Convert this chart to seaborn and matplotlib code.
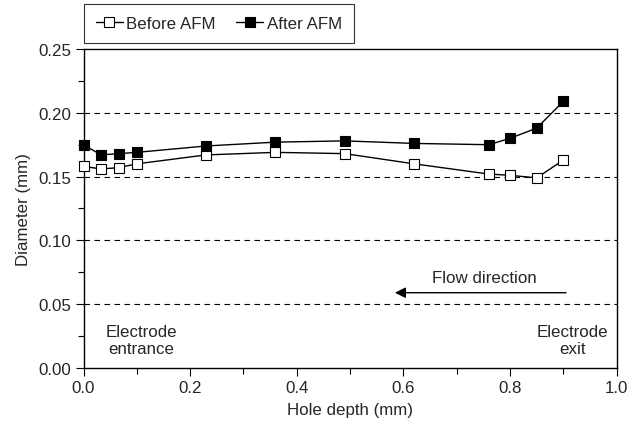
import matplotlib
matplotlib.use("Agg")
import matplotlib.pyplot as plt
import seaborn as sns
import pandas as pd
from matplotlib.ticker import MultipleLocator, FormatStrFormatter

depth = [0.0, 0.033, 0.066, 0.10, 0.23, 0.36, 0.49, 0.62, 0.76, 0.80, 0.85, 0.90]
before_afm = [0.158, 0.156, 0.157, 0.160, 0.167, 0.169, 0.168, 0.160, 0.152, 0.151, 0.149, 0.163]
after_afm = [0.175, 0.167, 0.168, 0.169, 0.174, 0.177, 0.178, 0.176, 0.175, 0.180, 0.188, 0.209]
series_names = ["Before AFM", "After AFM"]

df = pd.DataFrame({
    "depth": depth * 2,
    "diameter": before_afm + after_afm,
    "series": [series_names[0]] * len(depth) + [series_names[1]] * len(depth),
})

FS = 12.2
sns.set_style("ticks")
plt.rcParams["font.family"] = ["Liberation Sans", "DejaVu Sans"]
plt.rcParams["font.size"] = FS

fig = plt.figure(figsize=(6.39, 4.27), dpi=100)
ax = fig.add_axes([83.5 / 639, 1 - 369 / 427, (616.7 - 83.5) / 639, (369 - 50) / 427])

for name, face in zip(series_names, ["white", "black"]):
    sub = df[df["series"] == name]
    sns.lineplot(data=sub, x="depth", y="diameter", ax=ax, color="black",
                 linewidth=1.0, marker="s", markersize=7.5, markerfacecolor=face,
                 markeredgecolor="black", markeredgewidth=0.8,
                 estimator=None, sort=False, label=name, zorder=3, clip_on=False)

for yv in [0.05, 0.10, 0.15, 0.20]:
    ax.axhline(yv, color="black", linestyle=(0, (5, 4)), linewidth=0.8, zorder=1)

ax.set_xlim(0, 1.0)
ax.set_ylim(0, 0.25)
ax.xaxis.set_major_locator(MultipleLocator(0.2))
ax.xaxis.set_minor_locator(MultipleLocator(0.1))
ax.yaxis.set_major_locator(MultipleLocator(0.05))
ax.yaxis.set_minor_locator(MultipleLocator(0.025))
ax.xaxis.set_major_formatter(FormatStrFormatter("%.1f"))
ax.yaxis.set_major_formatter(FormatStrFormatter("%.2f"))
ax.tick_params(which="major", direction="out", length=6, width=0.8, color="black", labelsize=FS, pad=3)
ax.tick_params(which="minor", direction="out", length=4, width=0.8, color="black")
for s in ax.spines.values():
    s.set_visible(True)
    s.set_color("black")
    s.set_linewidth(1.0)

ax.set_xlabel("Hole depth (mm)", fontsize=FS, labelpad=5)
ax.set_ylabel("Diameter (mm)", fontsize=FS, labelpad=5)

ax.annotate("", xy=(0.584, 0.059), xytext=(0.905, 0.059),
            arrowprops=dict(arrowstyle="-|>", color="black", lw=1.0,
                            mutation_scale=16, shrinkA=0, shrinkB=0))
ax.text(0.752, 0.071, "Flow direction", ha="center", va="center", fontsize=FS)
ax.text(0.108, 0.022, "Electrode\nentrance", ha="center", va="center", fontsize=FS, linespacing=1.2)
ax.text(0.917, 0.022, "Electrode\nexit", ha="center", va="center", fontsize=FS, linespacing=1.2)

leg = ax.legend(loc="lower left", bbox_to_anchor=(84 / 639, 1 - 43.5 / 427),
                bbox_transform=fig.transFigure, ncol=2, frameon=True, fancybox=False,
                edgecolor="black", borderaxespad=0, handlelength=1.6, handletextpad=0.2,
                columnspacing=1.2, borderpad=0.7, fontsize=FS)
leg.get_frame().set_linewidth(0.8)

fig.savefig("out.png", dpi=100)
